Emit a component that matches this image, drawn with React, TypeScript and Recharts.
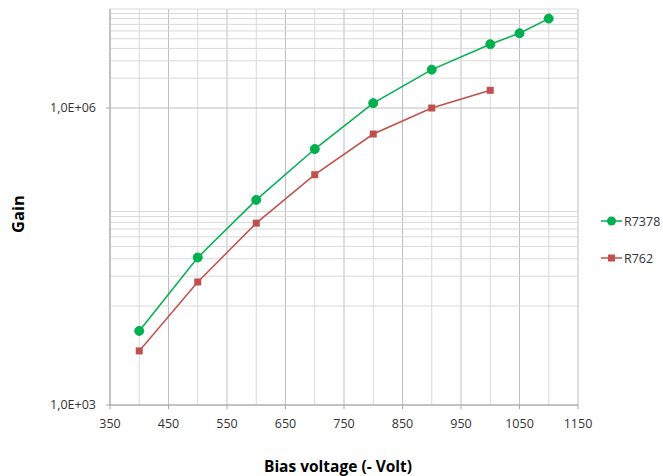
import React from "react";
import { LineChart, Line, XAxis, YAxis, CartesianGrid, ReferenceLine } from "recharts";

const voltages = [400, 500, 600, 700, 800, 900, 1000, 1050, 1100];
const gainR7378 = [5600, 30900, 118000, 385000, 1120000, 2440000, 4410000, 5690000, 8000000];
const gainR762 = [3520, 17500, 68700, 212000, 546000, 1000000, 1510000];

const xTicks = [350, 450, 550, 650, 750, 850, 950, 1050, 1150];
const xMinorGrid = [400, 500, 600, 700, 800, 900, 1000, 1100];
const yTicks = [1000, 1000000];
const yMinorGrid = [
  10000, 20000, 30000, 40000, 50000, 60000, 70000, 80000, 90000,
  2000000, 3000000, 4000000, 5000000, 6000000, 7000000, 8000000, 9000000, 10000000,
];

const GREEN = "#00B050";
const RED = "#C0504D";
const FONT = "'Open Sans', sans-serif";
const tick = { fontSize: 12.5, fill: "#333", fontFamily: FONT };

const data = voltages.map((v, i) => ({
  v,
  a: gainR7378[i],
  b: i < gainR762.length ? gainR762[i] : undefined,
}));

const fmt = (n: number) => `1,0E+${String(Math.round(Math.log10(n))).padStart(2, "0")}`;

const Square = (p: any) =>
  p.cx == null || p.cy == null ? null : (
    <rect x={p.cx - 3.5} y={p.cy - 3.5} width={7} height={7} fill={RED} />
  );

export default function App() {
  return (
    <div style={{ position: "absolute", left: 0, top: 0, width: 663, height: 476, background: "#fff", fontFamily: FONT }}>
      <LineChart width={663} height={476} data={data} margin={{ top: 9, right: 85, bottom: 41, left: 0 }}>
        <CartesianGrid horizontal={false} verticalValues={xMinorGrid} stroke="#d9d9d9" fill="none" />
        <CartesianGrid horizontalValues={yTicks} verticalValues={xTicks} stroke="#bfbfbf" fill="none" />
        {yMinorGrid.map((g) => (
          <ReferenceLine key={g} y={g} stroke="#d9d9d9" strokeWidth={1} />
        ))}
        <XAxis
          dataKey="v" type="number" domain={[350, 1150]} ticks={xTicks}
          tick={tick} tickSize={4} tickMargin={10} height={30}
          axisLine={{ stroke: "#a6a6a6" }} tickLine={{ stroke: "#a6a6a6" }}
        />
        <YAxis
          scale="log" domain={[1000, 10000000]} ticks={yTicks} tickFormatter={fmt}
          tick={tick} tickSize={4} tickMargin={10} width={110} allowDataOverflow
          axisLine={{ stroke: "#a6a6a6" }} tickLine={{ stroke: "#a6a6a6" }}
        />
        <Line dataKey="a" stroke={GREEN} strokeWidth={1.5} isAnimationActive={false}
              dot={{ r: 4.5, fill: GREEN, stroke: GREEN, strokeWidth: 1 }} />
        <Line dataKey="b" stroke={RED} strokeWidth={1.5} isAnimationActive={false} dot={<Square />} />
      </LineChart>

      <div style={{ position: "absolute", left: 338, top: 466, transform: "translate(-50%, -50%)", fontWeight: 700, fontSize: 15.5, color: "#000", whiteSpace: "nowrap" }}>
        Bias voltage (- Volt)
      </div>
      <div style={{ position: "absolute", left: 17, top: 214, transform: "translate(-50%, -50%) rotate(-90deg)", fontWeight: 700, fontSize: 16.5, color: "#000" }}>
        Gain
      </div>

      {[{ name: "R7378", color: GREEN, y: 221, circle: true }, { name: "R762", color: RED, y: 258, circle: false }].map((s) => (
        <div key={s.name} style={{ position: "absolute", left: 601, top: s.y - 9, height: 18, display: "flex", alignItems: "center" }}>
          <svg width={22} height={18}>
            <line x1={0} y1={9} x2={21} y2={9} stroke={s.color} strokeWidth={1.5} />
            {s.circle ? <circle cx={10.5} cy={9} r={4.5} fill={s.color} /> : <rect x={7} y={5.5} width={7} height={7} fill={s.color} />}
          </svg>
          <span style={{ fontSize: 12.5, color: "#333", marginLeft: 1 }}>{s.name}</span>
        </div>
      ))}
    </div>
  );
}
